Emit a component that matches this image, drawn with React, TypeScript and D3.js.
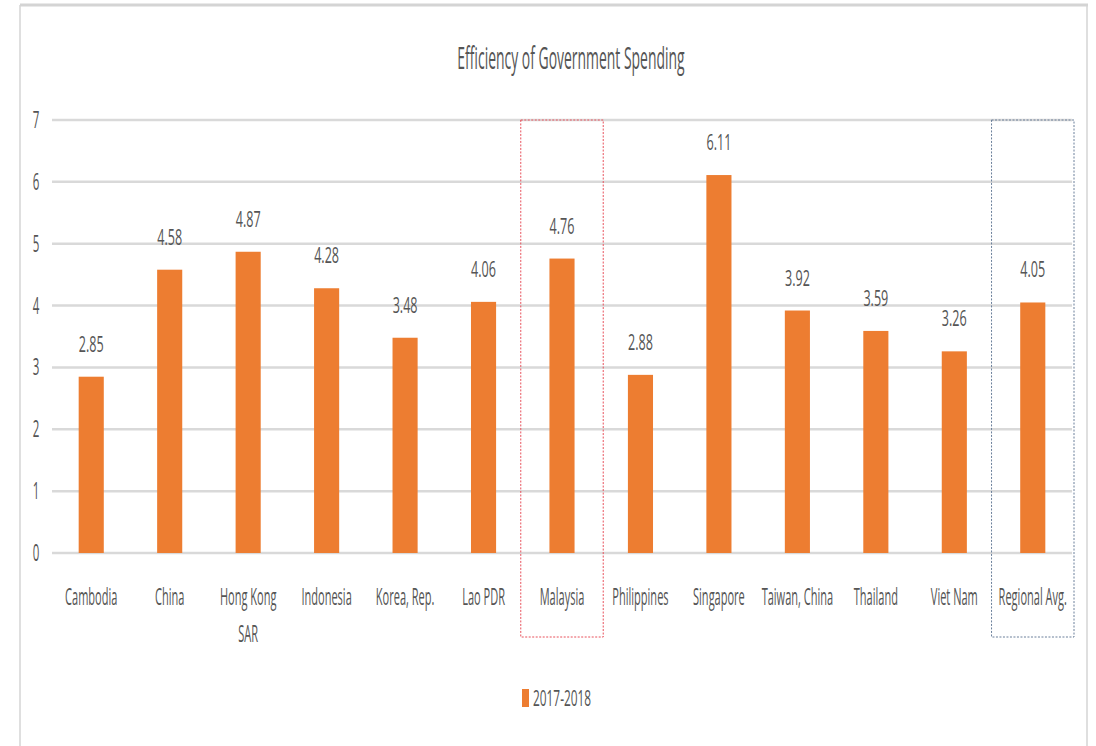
import React from "react";
import * as d3 from "d3";

const categories = ["Cambodia", "China", "Hong Kong SAR", "Indonesia", "Korea, Rep.", "Lao PDR", "Malaysia", "Philippines", "Singapore", "Taiwan, China", "Thailand", "Viet Nam", "Regional Avg."];
const labelLines = [["Cambodia"], ["China"], ["Hong Kong", "SAR"], ["Indonesia"], ["Korea, Rep."], ["Lao PDR"], ["Malaysia"], ["Philippines"], ["Singapore"], ["Taiwan, China"], ["Thailand"], ["Viet Nam"], ["Regional Avg."]];
const values = [2.85, 4.58, 4.87, 4.28, 3.48, 4.06, 4.76, 2.88, 6.11, 3.92, 3.59, 3.26, 4.05];
const yTicks = [0, 1, 2, 3, 4, 5, 6, 7];
const seriesName = "2017-2018";
const title = "Efficiency of Government Spending";
const highlights = [{ cat: "Malaysia", color: "#e8505b" }, { cat: "Regional Avg.", color: "#6a7f9a" }];

const W = 1096, H = 746;
const left = 52, right = 1072, top = 120, bottom = 553;
const FONT = "'Open Sans', 'Noto Sans', sans-serif";
const TXT = "#555555";

function NText({ x, y, size, sx, children, anchor = "middle", fill = TXT }: any) {
  return (
    <text transform={`translate(${x},${y}) scale(${sx},1)`} textAnchor={anchor} fontFamily={FONT} fontSize={size} fill={fill}>
      {children}
    </text>
  );
}

export default function App() {
  const x = d3.scaleBand<string>().domain(categories).range([left, right]).paddingInner(0.68).paddingOuter(0.34);
  const y = d3.scaleLinear().domain([0, 7]).range([bottom, top]);
  const step = x.step();
  return (
    <svg width={W} height={H} style={{ position: "absolute", left: 0, top: 0, background: "#fff" }}>
      <rect x={0} y={0} width={W} height={H} fill="#fff" />
      <line x1={20} x2={1088} y1={5} y2={5} stroke="#d4d4d4" strokeWidth={3} />
      <line x1={20} x2={20} y1={5} y2={H} stroke="#d4d4d4" strokeWidth={1.5} />
      <line x1={1087} x2={1087} y1={5} y2={H} stroke="#d4d4d4" strokeWidth={1.5} />
      <NText x={571} y={69} size={31} sx={0.45}>{title}</NText>
      {yTicks.map((t) => (
        <g key={t}>
          <line x1={left} x2={right} y1={y(t)} y2={y(t)} stroke="#d9d9d9" strokeWidth={2.5} />
          <NText x={36} y={y(t) + 8} size={23} sx={0.5}>{t}</NText>
        </g>
      ))}
      {categories.map((c, i) => (
        <g key={c}>
          <rect x={x(c)} y={y(values[i])} width={x.bandwidth()} height={y(0) - y(values[i])} fill="#ed7d31" />
          <NText x={(x(c) as number) + x.bandwidth() / 2} y={y(values[i]) - 25} size={21} sx={0.6}>{values[i].toFixed(2)}</NText>
          {labelLines[i].map((l, j) => (
            <NText key={j} x={(x(c) as number) + x.bandwidth() / 2} y={605 + j * 37} size={23} sx={0.48}>{l}</NText>
          ))}
        </g>
      ))}
      {highlights.map((h) => {
        const cx = (x(h.cat) as number) + x.bandwidth() / 2;
        return (
          <rect key={h.cat} x={cx - step / 2 - 2} y={y(7)} width={step + 4} height={637 - y(7)} fill="none" stroke={h.color} strokeWidth={1} strokeDasharray="2,1.5" />
        );
      })}
      <rect x={522} y={689} width={7} height={18} fill="#ed7d31" />
      <NText x={533} y={706} size={22} sx={0.54} anchor="start">{seriesName}</NText>
    </svg>
  );
}
